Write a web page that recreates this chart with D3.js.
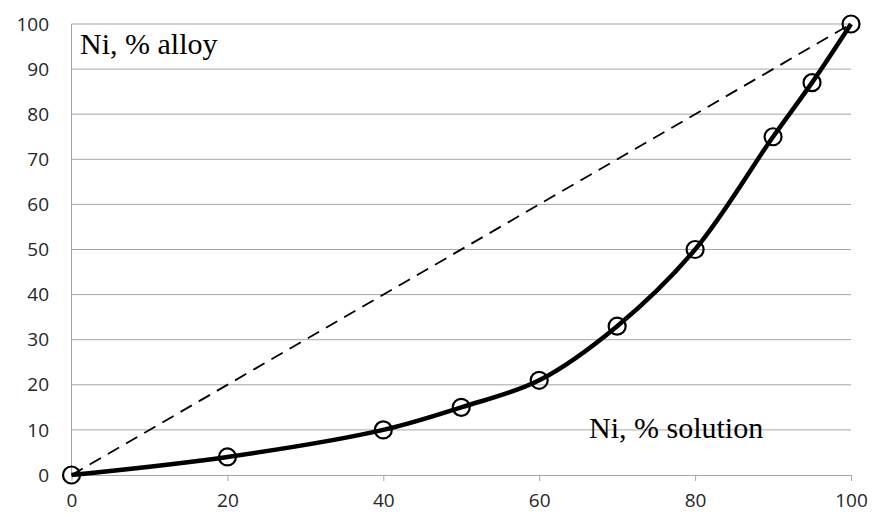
<!DOCTYPE html>
<html>
<head>
<meta charset="utf-8">
<script src="https://cdn.jsdelivr.net/npm/d3@7"></script>
<style>
  body { margin: 0; background: #fff; }
</style>
</head>
<body>
<svg id="chart" width="872" height="517"></svg>
<script>
// measured points, Ni in solution (%) vs Ni in alloy (%)
var solution = [0, 20, 40, 50, 60, 70, 80, 90, 95, 100]
var alloy = [0, 4, 10, 15, 21, 33, 50, 75, 87, 100]
// reference line x = y
var diagX = [0, 100]
var diagY = [0, 100]
var xTicks = [0, 20, 40, 60, 80, 100]
var yTicks = [0, 10, 20, 30, 40, 50, 60, 70, 80, 90, 100]

var svg = d3.select('#chart')

var x = d3.scaleLinear().domain([0, 100]).range([71.5, 851])
var y = d3.scaleLinear().domain([0, 100]).range([475, 24])

var labelFont = 'Open Sans, Liberation Sans, Arial, sans-serif'
var noteFont = 'Liberation Serif, Times New Roman, serif'

// horizontal gridlines
svg.append('g').selectAll('line').data(yTicks.slice(1)).join('line')
    .attr('x1', x(0)).attr('x2', x(100))
    .attr('y1', d => y(d)).attr('y2', d => y(d))
    .attr('stroke', '#a6a6a6').attr('stroke-width', 1)

// y axis line
svg.append('line')
    .attr('x1', x(0)).attr('x2', x(0))
    .attr('y1', y(0)).attr('y2', y(100))
    .attr('stroke', '#a6a6a6')

// y labels
svg.append('g').selectAll('text').data(yTicks).join('text')
    .attr('x', 49).attr('y', d => y(d))
    .attr('dy', '0.35em')
    .attr('text-anchor', 'end')
    .style('font-family', labelFont)
    .style('font-size', '19px')
    .attr('fill', '#262626')
    .text(d => d)

// x axis
var xAxis = svg.append('g')
    .attr('transform', 'translate(0,' + y(0) + ')')
    .call(d3.axisBottom(x).tickValues(xTicks).tickSize(6).tickSizeOuter(0).tickPadding(13))
xAxis.select('.domain').attr('stroke', '#a6a6a6')
xAxis.selectAll('.tick line').attr('stroke', '#a6a6a6')
xAxis.selectAll('.tick text')
    .style('font-family', labelFont)
    .style('font-size', '19px')
    .attr('fill', '#262626')

// dashed diagonal
svg.append('path')
    .datum(d3.zip(diagX, diagY))
    .attr('d', d3.line().x(d => x(d[0])).y(d => y(d[1])))
    .attr('fill', 'none')
    .attr('stroke', '#000')
    .attr('stroke-width', 1.8)
    .attr('stroke-dasharray', '13,8')

var pts = d3.zip(solution, alloy)

// smoothed curve
svg.append('path')
    .datum(pts)
    .attr('d', d3.line().curve(d3.curveCatmullRom.alpha(0.5)).x(d => x(d[0])).y(d => y(d[1])))
    .attr('fill', 'none')
    .attr('stroke', '#000')
    .attr('stroke-width', 4.5)
    .attr('stroke-linejoin', 'round')

// circle markers
svg.append('g').selectAll('circle').data(pts).join('circle')
    .attr('cx', d => x(d[0]))
    .attr('cy', d => y(d[1]))
    .attr('r', 8.5)
    .attr('fill', 'none')
    .attr('stroke', '#000')
    .attr('stroke-width', 2.2)

// annotations
svg.append('text')
    .attr('x', 80).attr('y', 54)
    .style('font-family', noteFont)
    .style('font-size', '30px')
    .text('Ni, % alloy')

svg.append('text')
    .attr('x', 589).attr('y', 438)
    .style('font-family', noteFont)
    .style('font-size', '30px')
    .text('Ni, % solution')
</script>
</body>
</html>
